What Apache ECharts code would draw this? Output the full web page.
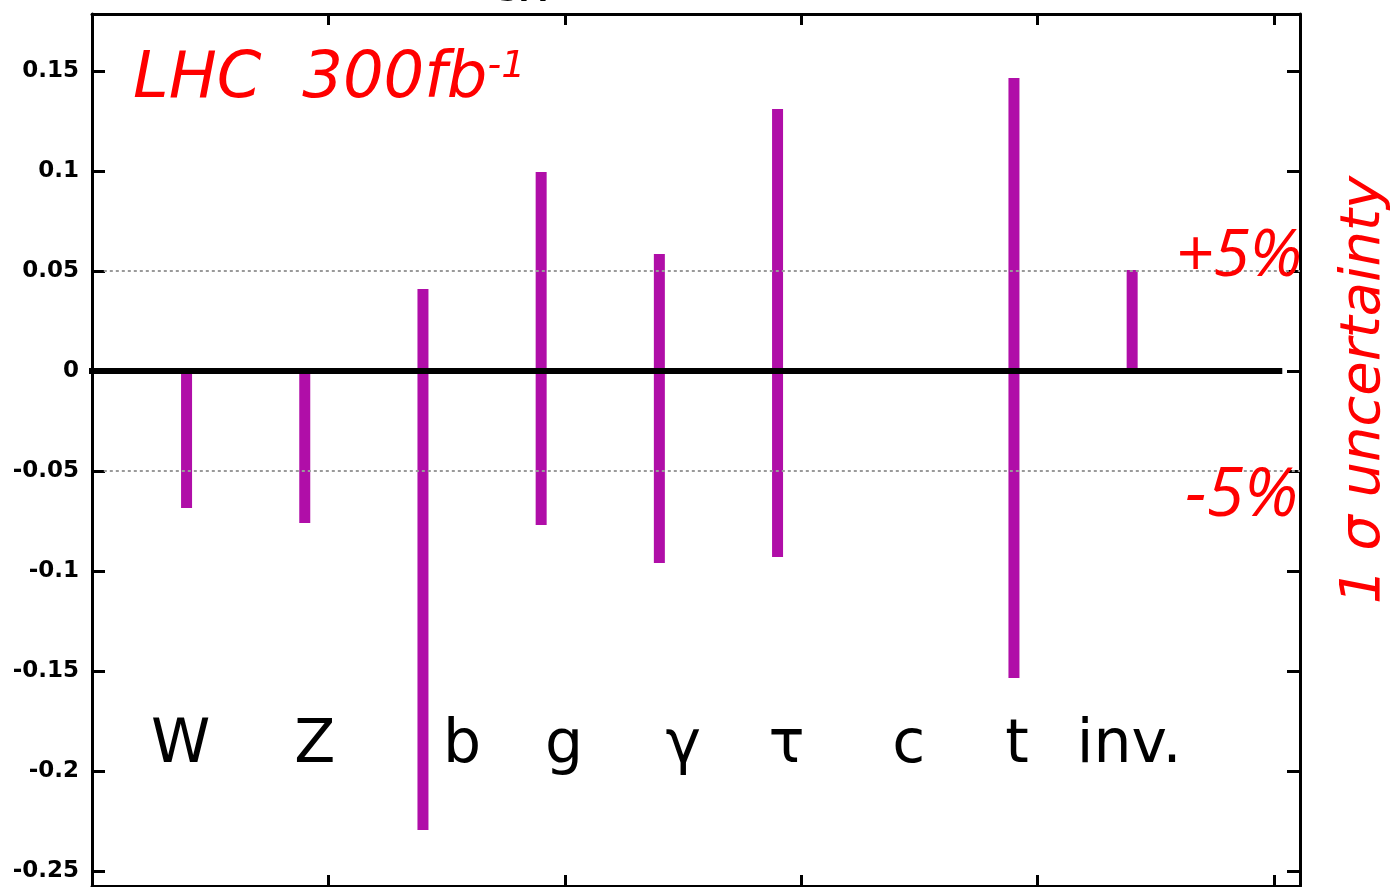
<!DOCTYPE html>
<html>
<head>
<meta charset="utf-8">
<title>Higgs coupling uncertainties</title>
<script src="https://cdn.jsdelivr.net/npm/echarts@6/dist/echarts.min.js"></script>
<style>
  html, body { margin: 0; padding: 0; background: #fff; }
  #chart { width: 1399px; height: 887px; }
</style>
</head>
<body>
<div id="chart"></div>
<script>
// Channels along the horizontal axis
const categories = ['W', 'Z', 'b', 'g', 'γ', 'τ', 'c', 't', 'inv.'];
// Upper and lower ends of each uncertainty band (null = no band drawn)
const upper = [0, 0, 0.041, 0.0995, 0.0585, 0.131, null, 0.1465, 0.0505];
const lower = [-0.0685, -0.076, -0.2295, -0.077, -0.096, -0.093, null, -0.1535, 0];
// Vertical axis tick values
const yTicks = [0.15, 0.1, 0.05, 0, -0.05, -0.1, -0.15, -0.2, -0.25];
// Reference levels (±5%)
const refLevels = [0.05, -0.05];

const X_MIN = 0, X_MAX = 10.22, X_FIRST = 0.8;
const Y_MIN = -0.2575, Y_MAX = 0.1785;
const BAR_COLOR = '#b00ea8';

const bands = [];
categories.forEach((c, i) => {
  if (upper[i] !== null) bands.push([X_FIRST + i, lower[i], upper[i]]);
});

// pixel nudges for the channel names so they sit beside the bands
const nameShift = [-6, 10, 39, 23, 24, 9, 13, 3, -3];
const NAME_LEVEL = -0.1875;

const chart = echarts.init(document.getElementById('chart'), null, { renderer: 'canvas' });

const frameLine = { show: true, onZero: false, lineStyle: { color: '#000', width: 3 } };
const frameTick = (len, vals) => {
  const t = { show: true, inside: true, length: len, lineStyle: { color: '#000', width: 3 } };
  if (vals) t.customValues = vals;
  return t;
};

const option = {
  animation: false,
  backgroundColor: '#fff',
  grid: { left: 92, right: 99, top: 14, bottom: 1, containLabel: false },
  xAxis: [
    {
      type: 'value', min: X_MIN, max: X_MAX, interval: 2, position: 'bottom',
      axisLine: frameLine, axisTick: frameTick(11),
      axisLabel: { show: false }, splitLine: { show: false }
    },
    {
      type: 'value', min: X_MIN, max: X_MAX, interval: 2, position: 'top',
      axisLine: frameLine, axisTick: frameTick(11),
      axisLabel: { show: false }, splitLine: { show: false }
    }
  ],
  yAxis: [
    {
      type: 'value', min: Y_MIN, max: Y_MAX, position: 'left',
      axisLine: frameLine, axisTick: frameTick(13, yTicks),
      axisLabel: { show: true, customValues: yTicks, margin: 13,
                   formatter: v => String(v),
                   fontFamily: 'DejaVu Sans', fontWeight: 'bold', fontSize: 23, color: '#000' },
      splitLine: { show: false }
    },
    {
      type: 'value', min: Y_MIN, max: Y_MAX, position: 'right',
      axisLine: frameLine, axisTick: frameTick(13, yTicks),
      axisLabel: { show: false }, splitLine: { show: false }
    }
  ],
  graphic: [
    {
      type: 'text', left: 497, top: -22, z: 100,
      style: { text: 'SM', font: 'bold 30px "DejaVu Sans"', fill: '#000' }
    },
    {
      type: 'text', x: 133, y: 80, z: 100,
      style: {
        text: '{m|LHC  300fb}{s|-1}',
        verticalAlign: 'middle',
        rich: {
          m: { fontFamily: 'DejaVu Sans', fontStyle: 'italic', fontSize: 64, fill: '#ff0000', fontWeight: 'normal' },
          s: { fontFamily: 'DejaVu Sans', fontStyle: 'italic', fontSize: 38, fill: '#ff0000',
               verticalAlign: 'top', padding: [0, 0, 24, 0] }
        }
      }
    },
    {
      type: 'text', x: 1302, y: 257, z: 100,
      style: { text: '+5%', align: 'right', verticalAlign: 'middle',
               font: 'italic 66px "Open Sans"', fill: '#ff0000' }
    },
    {
      type: 'text', x: 1298, y: 497, z: 100,
      style: { text: '-5%', align: 'right', verticalAlign: 'middle',
               font: 'italic 68px "Open Sans"', fill: '#ff0000' }
    },
    {
      type: 'text', x: 1364, y: 390, rotation: Math.PI / 2, z: 100,
      style: { text: '1 σ uncertainty', align: 'center', verticalAlign: 'middle',
               font: 'italic 56px "DejaVu Sans"', fill: '#ff0000' }
    }
  ],
  series: [
    {
      // ±5% guide lines
      type: 'line', data: [], silent: true, z: 1,
      markLine: {
        silent: true, symbol: 'none', label: { show: false },
        lineStyle: { color: '#9a9a9a', width: 2, type: [3, 3] },
        data: refLevels.map(v => [{ coord: [0.1, v] }, { coord: [X_MAX, v] }])
      }
    },
    {
      // uncertainty bands
      type: 'custom', z: 3,
      data: bands,
      encode: { x: 0, y: [1, 2] },
      renderItem: function (params, api) {
        const top = api.coord([api.value(0), api.value(2)]);
        const bot = api.coord([api.value(0), api.value(1)]);
        return {
          type: 'rect',
          shape: { x: top[0] - 5.5, y: top[1], width: 11, height: bot[1] - top[1] },
          style: { fill: BAR_COLOR }
        };
      }
    },
    {
      // zero line, running slightly past the left frame
      type: 'line', z: 5, clip: false, symbol: 'none', silent: true,
      data: [[-0.11, 0], [10.07, 0]],
      lineStyle: { color: '#000', width: 6 }
    },
    {
      // channel names
      type: 'scatter', z: 6, symbolSize: 1, silent: true,
      itemStyle: { opacity: 0 },
      data: categories.map((c, i) => ({
        value: [X_FIRST + i, NAME_LEVEL],
        name: c,
        label: { offset: [nameShift[i], 0] }
      })),
      label: {
        show: true, position: 'inside', align: 'center', verticalAlign: 'middle',
        formatter: p => p.name,
        fontFamily: 'DejaVu Sans', fontSize: 60, color: '#000', opacity: 1
      }
    }
  ]
};

chart.setOption(option);
</script>
</body>
</html>
